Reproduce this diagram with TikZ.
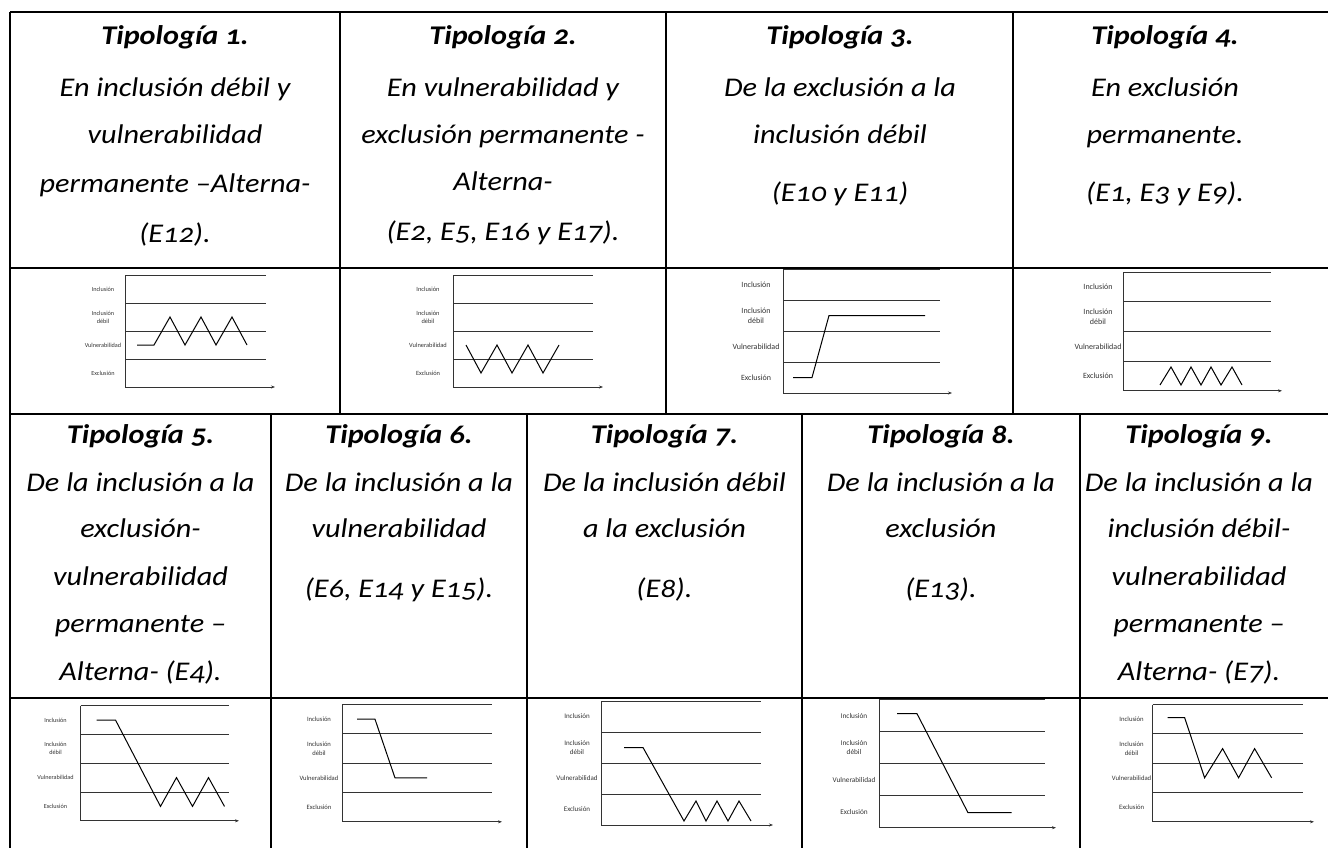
\documentclass[tikz,border=0pt]{standalone}
\usepackage{fontspec}
\setmainfont{Carlito}[Numbers=OldStyle]
\newfontfamily\cellfont{Carlito}[Numbers=OldStyle, FakeStretch=1.12]
\newfontfamily\chartfont{Carlito}
\usetikzlibrary{arrows.meta}

\tikzset{
  tabline/.style={line width=2.4pt, black},
  bandline/.style={line width=1pt, black!80},
  axisline/.style={line width=1pt, black!80, -{Stealth[length=4pt,width=3pt]}},
  trajline/.style={line width=1pt, black, line join=miter},
  celltext/.style={anchor=base, inner sep=0pt, font=\cellfont\itshape\fontsize{27}{32}\selectfont},
  celltitle/.style={anchor=base, inner sep=0pt, font=\cellfont\bfseries\itshape\fontsize{27}{32}\selectfont},
  chartlabel/.style={inner sep=0pt, align=center, text=black!80},
}

% one line of cell text: name, x, baseline y, text
\newcommand\txtline[4]{\node[celltext] (#1) at (#2,#3) {#4};}
\newcommand\titleline[4]{\node[celltitle] (#1) at (#2,#3) {#4};}

% trajectory chart: prefix, x0, top y, band height, width, arrow extra,
% label x offset, label size, trajectory path (local coordinates)
\newcommand\trajchart[9]{%
  \begin{scope}[shift={(#2,#3)}]
    \foreach \k in {0,1,2,3} {\draw[bandline] (0,{\k*#4}) -- (#5,{\k*#4});}
    \draw[bandline] (0,0) -- (0,{4*#4});
    \draw[axisline] (0,{4*#4}) -- ({#5+#6},{4*#4});
    \begin{scope}[every node/.append style={font=\chartfont\fontsize{#8}{\fpeval{1.3*#8}}\selectfont}]
      \node[chartlabel] (#1inc) at (#7,{0.5*#4}) {Inclusión};
      \node[chartlabel] (#1deb) at (#7,{1.5*#4}) {Inclusión\\débil};
      \node[chartlabel] (#1vul) at (#7,{2.5*#4}) {Vulnerabilidad};
      \node[chartlabel] (#1exc) at (#7,{3.5*#4}) {Exclusión};
    \end{scope}
    \draw[trajline] #9;
  \end{scope}}

\begin{document}
\begin{tikzpicture}[x=1pt, y=-1pt]
  \useasboundingbox (0,0) rectangle (1328,848);

  % table rules
  \draw[tabline] (10,12) -- (1328,12);
  \draw[tabline] (10,12) -- (10,848);
  \draw[tabline] (10,268) -- (1328,268);
  \draw[tabline] (10,414) -- (1328,414);
  \draw[tabline] (10,698) -- (1328,698);
  \foreach \x in {340,666,1013} {\draw[tabline] (\x,12) -- (\x,414);}
  \foreach \x in {271,527,802,1080} {\draw[tabline] (\x,414) -- (\x,848);}

  % upper row texts
  \titleline{t1a}{175}{45}{Tipología 1.}
  \txtline{t1b}{175}{97}{En inclusión débil y}
  \txtline{t1c}{175}{144}{vulnerabilidad}
  \txtline{t1d}{175}{192}{permanente –Alterna-}
  \txtline{t1e}{175}{242}{(E12).}

  \titleline{t2a}{503}{45}{Tipología 2.}
  \txtline{t2b}{503}{97}{En vulnerabilidad y}
  \txtline{t2c}{503}{144}{exclusión permanente -}
  \txtline{t2d}{503}{190}{Alterna-}
  \txtline{t2e}{503}{240}{(E2, E5, E16 y E17).}

  \titleline{t3a}{840}{45}{Tipología 3.}
  \txtline{t3b}{840}{97}{De la exclusión a la}
  \txtline{t3c}{840}{144}{inclusión débil}
  \txtline{t3d}{840}{201}{(E10 y E11)}

  \titleline{t4a}{1165}{45}{Tipología 4.}
  \txtline{t4b}{1165}{97}{En exclusión}
  \txtline{t4c}{1165}{144}{permanente.}
  \txtline{t4d}{1165}{201}{(E1, E3 y E9).}

  % lower row texts
  \titleline{t5a}{140.5}{443}{Tipología 5.}
  \txtline{t5b}{140.5}{491}{De la inclusión a la}
  \txtline{t5c}{140.5}{537}{exclusión-}
  \txtline{t5d}{140.5}{585}{vulnerabilidad}
  \txtline{t5e}{140.5}{632}{permanente –}
  \txtline{t5f}{140.5}{680}{Alterna- (E4).}

  \titleline{t6a}{399}{443}{Tipología 6.}
  \txtline{t6b}{399}{491}{De la inclusión a la}
  \txtline{t6c}{399}{537}{vulnerabilidad}
  \txtline{t6d}{399}{597}{(E6, E14 y E15).}

  \titleline{t7a}{664.5}{443}{Tipología 7.}
  \txtline{t7b}{664.5}{491}{De la inclusión débil}
  \txtline{t7c}{664.5}{537}{a la exclusión}
  \txtline{t7d}{664.5}{597}{(E8).}

  \titleline{t8a}{941}{443}{Tipología 8.}
  \txtline{t8b}{941}{491}{De la inclusión a la}
  \txtline{t8c}{941}{537}{exclusión}
  \txtline{t8d}{941}{597}{(E13).}

  \titleline{t9a}{1199}{443}{Tipología 9.}
  \txtline{t9b}{1199}{491}{De la inclusión a la}
  \txtline{t9c}{1199}{537}{inclusión débil-}
  \txtline{t9d}{1199}{585}{vulnerabilidad}
  \txtline{t9e}{1199}{632}{permanente –}
  \txtline{t9f}{1199}{680}{Alterna- (E7).}

  % charts
  \trajchart{ca}{125}{275}{28}{141}{9}{-22}{6.2}
    {(12,70) -- (29,70) -- (45,42) -- (60,70) -- (76,42) -- (91,70) -- (107,42) -- (122,70)}
  \trajchart{cb}{453}{275}{28}{140}{10}{-25}{6.4}
    {(13,70) -- (28,98) -- (44,70) -- (59,98) -- (75,70) -- (90,98) -- (106,70)}
  \trajchart{cc}{783}{269}{31}{157}{12}{-27}{8}
    {(10,108.5) -- (29,108.5) -- (46,46.5) -- (142,46.5)}
  \trajchart{cd}{1123}{272}{29.7}{148}{11}{-25}{8}
    {(37,113) -- (48,95) -- (58,113) -- (68,95) -- (78,113) -- (88,95) -- (98,113) -- (109,95) -- (119,113)}
  \trajchart{ce}{80.5}{705.6}{28.8}{148.5}{10}{-25}{6.2}
    {(16,14.4) -- (35,14.4) -- (80,100.8) -- (96,72) -- (112,100.8) -- (128,72) -- (144,100.8)}
  \trajchart{cf}{342}{704.6}{29.3}{150}{10}{-23}{6.6}
    {(15,14.6) -- (33,14.6) -- (53,73.3) -- (85,73.3)}
  \trajchart{cg}{601}{701}{31}{160}{12}{-24}{7}
    {(23,46.5) -- (42,46.5) -- (83,120) -- (95,100) -- (105,120) -- (116,100) -- (127,120) -- (138,100) -- (150,120)}
  \trajchart{ch}{879}{699.7}{32}{165.5}{11.5}{-25}{7.3}
    {(18,14) -- (38,14) -- (89,113) -- (132.5,113)}
  \trajchart{ci}{1152.6}{704.6}{29.3}{150.4}{11}{-21}{6.7}
    {(15,13) -- (32,13) -- (52,73.2) -- (70,44) -- (86,73.2) -- (102,44) -- (119,73.2)}
\end{tikzpicture}
\end{document}
